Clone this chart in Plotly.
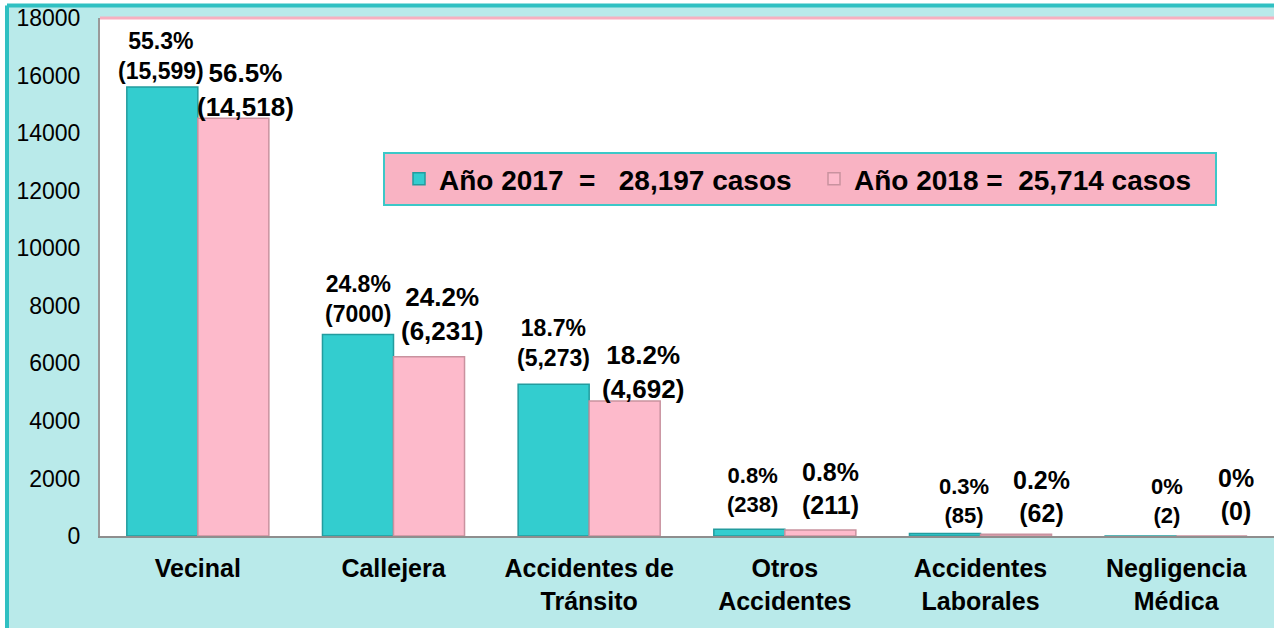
import plotly.graph_objects as go

# ---------------- data ----------------
categories = ["Vecinal", "Callejera", "Accidentes de<br>Tránsito", "Otros<br>Accidentes",
              "Accidentes<br>Laborales", "Negligencia<br>Médica"]
values_2017 = [15599, 7000, 5273, 238, 85, 2]
values_2018 = [14518, 6231, 4692, 211, 62, 0]
pct_2017 = ["55.3%", "24.8%", "18.7%", "0.8%", "0.3%", "0%"]
pct_2018 = ["56.5%", "24.2%", "18.2%", "0.8%", "0.2%", "0%"]
count_2017 = ["(15,599)", "(7000)", "(5,273)", "(238)", "(85)", "(2)"]
count_2018 = ["(14,518)", "(6,231)", "(4,692)", "(211)", "(62)", "(0)"]
name_2017 = "Año 2017\u00a0\u00a0=\u00a0\u00a0\u00a028,197 casos"
name_2018 = "Año 2018 =\u00a0\u00a025,714 casos"
y_ticks = [0, 2000, 4000, 6000, 8000, 10000, 12000, 14000, 16000, 18000]

# ---------------- style ----------------
W, H = 1274, 628
ML, MR, MT, MB = 100, 0, 18, 92
TEAL = "#33CDCF"
TEAL_EDGE = "#239C9E"
PINK = "#FDBACB"
PINK_EDGE = "#C9929F"
BG = "#B9EAEA"
FRAME = "#2FC0C2"
FONT = "Liberation Sans, Arial, sans-serif"

# label nudges (px) and font sizes, per bar
dx_2017 = [-1, 0, 0, 3, 19, 26]
dx_2018 = [12, 13, 18, 10, 25, 24]
dy_2017 = [31, 36, 41, 39, 33, 35]
dy_2018 = [28, 43, 29, 41, 38, 42]
fs_2017 = [23, 23, 23, 22, 22, 22]
fs_2018 = [26, 26, 26, 25, 25, 25]

fig = go.Figure()
fig.add_trace(go.Bar(x=categories, y=values_2017, name=name_2017,
                     marker=dict(color=TEAL, line=dict(color=TEAL_EDGE, width=1.5))))
fig.add_trace(go.Bar(x=categories, y=values_2018, name=name_2018,
                     marker=dict(color=PINK, line=dict(color=PINK_EDGE, width=1.5))))

plot_w = W - ML - MR
plot_h = H - MT - MB
half_bar = plot_w / len(categories) * (1 - 0.274) / 4

for i, c in enumerate(categories):
    fig.add_annotation(x=c, y=values_2017[i], xref="x", yref="y",
                       text=f"{pct_2017[i]}<br>{count_2017[i]}", showarrow=False,
                       xshift=-half_bar + dx_2017[i], yshift=dy_2017[i], yanchor="middle",
                       font=dict(family=FONT, size=fs_2017[i], color="black", weight="bold"))
    fig.add_annotation(x=c, y=values_2018[i], xref="x", yref="y",
                       text=f"{pct_2018[i]}<br>{count_2018[i]}", showarrow=False,
                       xshift=half_bar + dx_2018[i], yshift=dy_2018[i], yanchor="middle",
                       font=dict(family=FONT, size=fs_2018[i], color="black", weight="bold"))

# white strips outside the cyan frame (top and left)
fx = (7 - ML) / plot_w
fy = 1 + (MT - 5.5) / plot_h
fig.add_shape(type="rect", xref="paper", yref="paper", x0=-0.2, x1=1.2, y0=fy, y1=1.2,
              fillcolor="white", line=dict(width=0), layer="below")
fig.add_shape(type="rect", xref="paper", yref="paper", x0=-0.2, x1=fx, y0=-0.5, y1=1.2,
              fillcolor="white", line=dict(width=0), layer="below")
# cyan frame lines
fig.add_shape(type="line", xref="paper", yref="paper", x0=fx, x1=1.2, y0=fy, y1=fy,
              line=dict(color=FRAME, width=4))
fig.add_shape(type="line", xref="paper", yref="paper", x0=fx, x1=fx, y0=-0.5, y1=fy,
              line=dict(color=FRAME, width=4))
# pink top edge of plot area
fig.add_shape(type="line", xref="paper", yref="paper", x0=0, x1=1, y0=1, y1=1,
              line=dict(color="#F7B0C0", width=3))

fig.update_layout(
    width=W, height=H,
    margin=dict(l=ML, r=MR, t=MT, b=MB, autoexpand=False),
    paper_bgcolor=BG, plot_bgcolor="white",
    barmode="group", bargap=0.274, bargroupgap=0,
    font=dict(family=FONT, color="black"),
    showlegend=True,
    legend=dict(orientation="h", x=(383 - ML) / plot_w, y=(536 - 152) / plot_h,
                xanchor="left", yanchor="top", indentation=14,
                bgcolor="#F9B3C3", bordercolor="#3CC8C8", borderwidth=2,
                font=dict(family=FONT, size=28, color="black", weight="bold"),
                entrywidth=356, entrywidthmode="pixels"),
    xaxis=dict(showgrid=False, showline=True, linecolor="#8E8E8E", linewidth=2,
               tickfont=dict(family=FONT, size=25, color="black", weight="bold"),
               ticks="", ticklabelstandoff=9, automargin=False),
    yaxis=dict(range=[0, 18000], tickvals=y_ticks, tickformat="d",
               showgrid=False, zeroline=False,
               showline=True, linecolor="#9A9A9A", linewidth=2,
               tickfont=dict(family=FONT, size=23, color="black"),
               ticks="", ticklabelstandoff=13, automargin=False),
    hovermode=False,
)

fig.write_html("out.html", config={"displayModeBar": False},
               post_script="document.body.style.margin='0';document.body.style.overflow='hidden';")
